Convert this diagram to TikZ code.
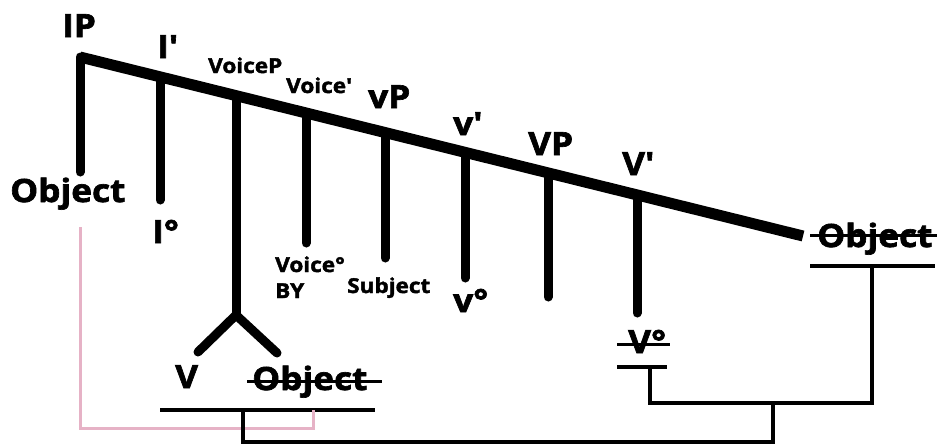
\documentclass[tikz,border=0pt]{standalone}
\usepackage{fontspec}
\newfontfamily\lblfont{Open Sans}[FakeStretch=1.1, BoldFeatures={FakeBold=2}]
\begin{document}
\begin{tikzpicture}[x=1pt,y=-1pt,
  big/.style={font=\lblfont\bfseries\fontsize{32}{36}\selectfont, inner sep=0pt, anchor=base west},
  small/.style={font=\lblfont\bfseries\fontsize{20.5}{24}\selectfont, inner sep=0pt, anchor=base west},
  trunk/.style={line width=11pt, line cap=butt},
  drop/.style={line width=9pt, line cap=round},
  thin/.style={line width=3.5pt},
  strike/.style={line width=3pt},
  pinkline/.style={line width=3pt, draw=pinkc}]
\definecolor{pinkc}{RGB}{230,178,198}
\useasboundingbox (0,0) rectangle (941,445);
% labels
\node[big] (ip) at (62,37) {IP};
\node[big] (ibar) at (157,58) {I\textquotesingle};
\node[small] (voicep) at (208,73) {VoiceP};
\node[small] (voicebar) at (286,93) {Voice\textquotesingle};
\node[big] (vp) at (368,108) {vP};
\node[big] (vbar) at (453,135) {v\textquotesingle};
\node[big] (bigvp) at (528,155) {VP};
\node[big] (bigvbar) at (622,175) {V\textquotesingle};
\node[big] (objtop) at (10,202) {Object};
\node[big] (izero) at (152,243) {I°};
\node[small] (voicezero) at (275,272) {Voice°};
\node[small] (by) at (275,298) {BY};
\node[small] (subj) at (347,293) {Subject};
\node[big] (vzero) at (453,312) {v°};
\node[big] (bigvzero) at (628,353) {V°};
\node[big] (verb) at (175,388) {V};
\node[big] (objlow) at (252,390) {Object};
\node[big] (objright) at (817,247) {Object};
% tree points
\coordinate (ipc) at (80,57);
\coordinate (endc) at (803,236);
\coordinate (ipbot) at (80,172);
\coordinate (t1) at (160,76.8);   \coordinate (b1) at (160,200);
\coordinate (t2) at (236,95.6);   \coordinate (b2) at (236,315);
\coordinate (t3) at (306,113);    \coordinate (b3) at (306,243);
\coordinate (t4) at (385,132.5);  \coordinate (b4) at (385,258);
\coordinate (t5) at (465,152.3);  \coordinate (b5) at (465,278);
\coordinate (t6) at (548,172.9);  \coordinate (b6) at (548,297);
\coordinate (t7) at (637,194.9);  \coordinate (b7) at (637,313);
\coordinate (brl) at (198,352);
\coordinate (brr) at (277,353);
% tree
\draw[trunk] (ipc) -- (endc);
\draw[drop] (ipc) -- (ipbot);
\foreach \i in {1,...,7} \draw[drop] (t\i) -- (b\i);
\draw[drop, line join=round] (brl) -- (b2) -- (brr);
% strike-throughs
\coordinate (s1a) at (247,381); \coordinate (s1b) at (382,381);
\coordinate (s2a) at (810,235); \coordinate (s2b) at (937,235);
\coordinate (s3a) at (617,344); \coordinate (s3b) at (670,344);
\draw[strike] (s1a) -- (s1b);
\draw[strike] (s2a) -- (s2b);
\draw[strike] (s3a) -- (s3b);
% underlines
\coordinate (u1a) at (160,410); \coordinate (u1b) at (375,410);
\coordinate (u2a) at (617,367); \coordinate (u2b) at (667,367);
\coordinate (u3a) at (810,266); \coordinate (u3b) at (935,266);
\draw[thin] (u1a) -- (u1b);
\draw[thin] (u2a) -- (u2b);
\draw[thin] (u3a) -- (u3b);
% connectors
\coordinate (c1) at (243,410);
\coordinate (c2) at (773,403);
\coordinate (c3) at (650,367);
\coordinate (c4) at (872,266);
\coordinate (p1) at (80,227);
\coordinate (p2) at (313,410);
\draw[pinkline] (p1) -- (80,428) -| (p2);
\draw[thin] (c1) -- (243,442) -| (c2);
\draw[thin] (c3) -- (650,403) -| (c4);
\end{tikzpicture}
\end{document}
